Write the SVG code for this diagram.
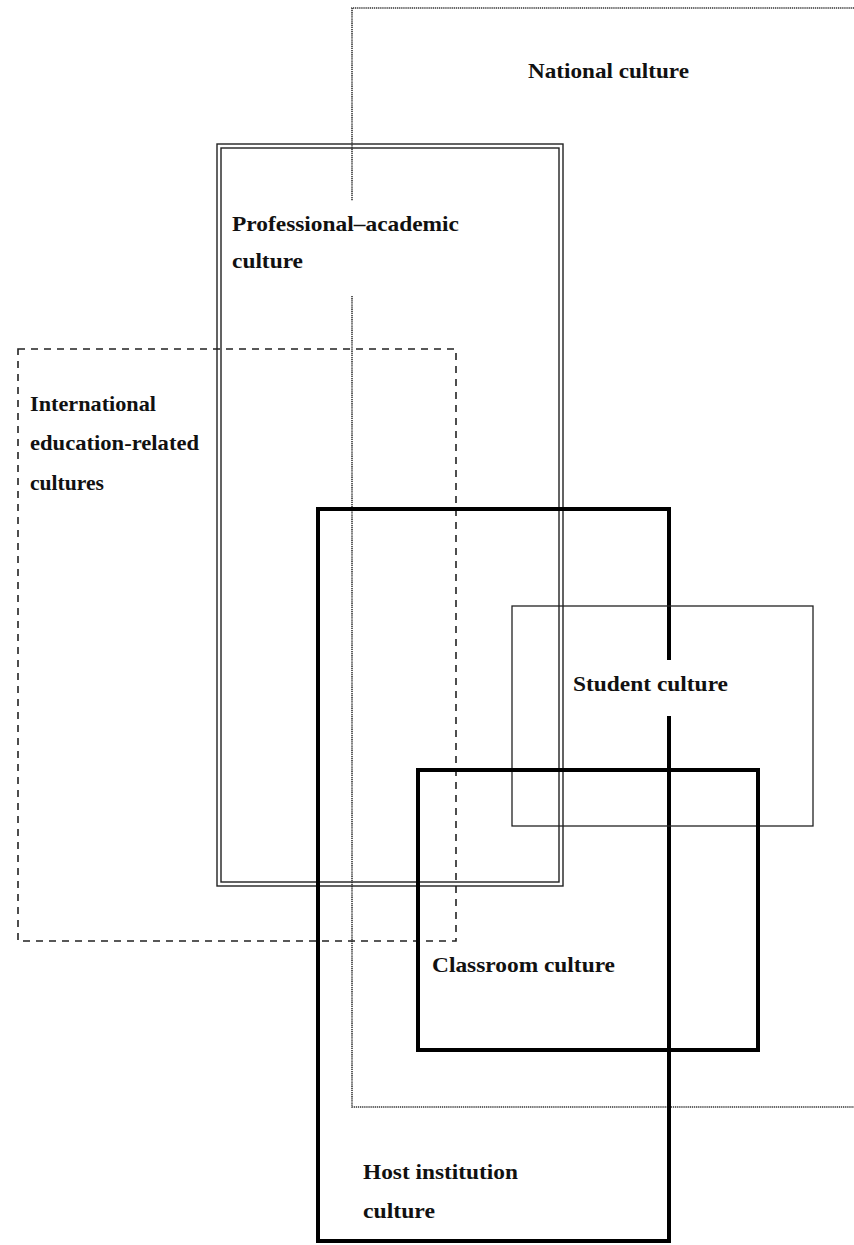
<svg xmlns="http://www.w3.org/2000/svg" width="854" height="1245" viewBox="0 0 854 1245">
<style>
.lbl{font-family:"Liberation Serif","Times New Roman",serif;font-weight:bold;font-size:21px;fill:#111}
.dot{fill:none;stroke:#333;stroke-width:1.6;stroke-dasharray:1.3 0.8}
.dbl{fill:none;stroke:#222;stroke-width:1.4}
.dash{fill:none;stroke:#222;stroke-width:1.6;stroke-dasharray:7 6}
.thick{fill:none;stroke:#000;stroke-width:4}
.thin{fill:none;stroke:#222;stroke-width:1.3}
</style>
<rect width="854" height="1245" fill="#fff"/>
<g id="national">
<path class="dot" d="M854 8 H352 V201 M352 296 V1107 H854"/>
<text class="lbl" x="528" y="78" textLength="161" lengthAdjust="spacingAndGlyphs">National culture</text>
</g>
<g id="professional">
<rect class="dbl" x="217" y="144" width="346" height="742"/>
<rect class="dbl" x="221" y="148" width="338" height="734"/>
<text class="lbl" x="232" y="231" textLength="227" lengthAdjust="spacingAndGlyphs">Professional–academic</text>
<text class="lbl" x="232" y="268" textLength="71" lengthAdjust="spacingAndGlyphs">culture</text>
</g>
<g id="international">
<rect class="dash" x="18" y="349" width="438" height="592"/>
<text class="lbl" x="30" y="411" textLength="126" lengthAdjust="spacingAndGlyphs">International</text>
<text class="lbl" x="30" y="450" textLength="169" lengthAdjust="spacingAndGlyphs">education-related</text>
<text class="lbl" x="30" y="490" textLength="74" lengthAdjust="spacingAndGlyphs">cultures</text>
</g>
<g id="host">
<path class="thick" d="M669 660 V509 H318 V1241 H669 V716"/>
<text class="lbl" x="363" y="1179" textLength="155" lengthAdjust="spacingAndGlyphs">Host institution</text>
<text class="lbl" x="363" y="1218" textLength="72" lengthAdjust="spacingAndGlyphs">culture</text>
</g>
<g id="student">
<rect class="thin" x="512" y="606" width="301" height="220"/>
<text class="lbl" x="573" y="691" textLength="155" lengthAdjust="spacingAndGlyphs">Student culture</text>
</g>
<g id="classroom">
<rect class="thick" x="418" y="770" width="340" height="280"/>
<text class="lbl" x="432" y="972" textLength="183" lengthAdjust="spacingAndGlyphs">Classroom culture</text>
</g>
</svg>
